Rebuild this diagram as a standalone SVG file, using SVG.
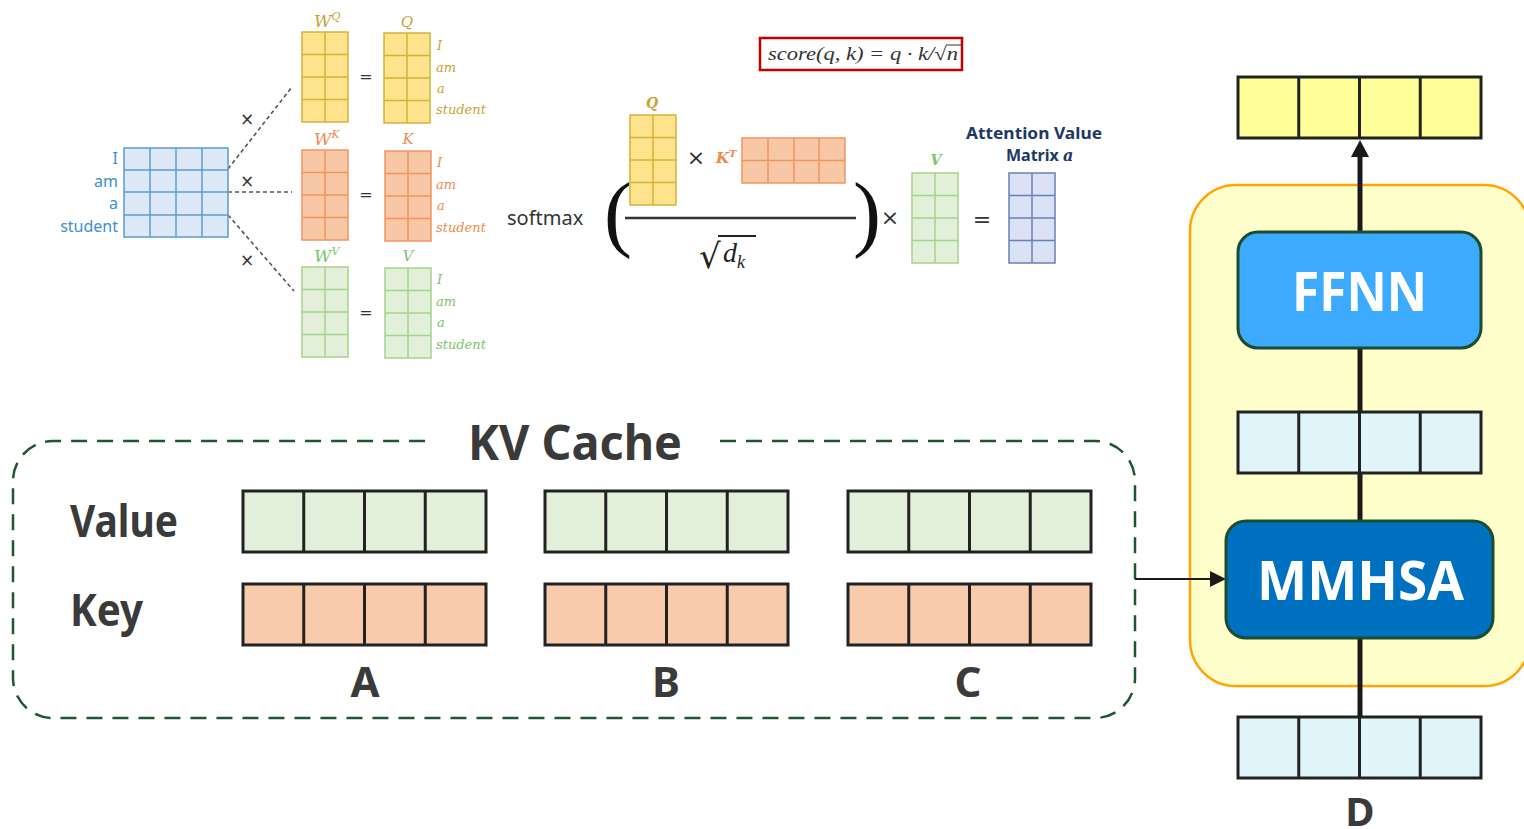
<svg xmlns="http://www.w3.org/2000/svg" xmlns:xlink="http://www.w3.org/1999/xlink" width="1524" height="829" viewBox="0 0 1524 829">
  <style>
    .sans { font-family: "Noto Sans", "Open Sans", "Liberation Sans", sans-serif; }
    .bold { font-weight: 700; }
    .dark { fill: #3a3a3a; }
    .math { font-family: "DejaVu Serif", "Liberation Serif", serif; font-style: italic; }
    .lbl-q { fill: #c9a232; }
    .lbl-k { fill: #f08a4b; }
    .lbl-v { fill: #7cc46a; }
    .lbl-x { fill: #3b8fd6; }
    .m-q { fill: #fde38c; stroke: #d6b03a; }
    .m-k { fill: #f8c8a6; stroke: #f09560; }
    .m-v { fill: #e2f0d9; stroke: #a6d28c; }
    .m-x { fill: #dde9f6; stroke: #5a9bd5; }
    .m-a { fill: #dae2f3; stroke: #6b7fb6; }
    .grid { stroke-width: 1.5; }
    .vec { stroke: #222; stroke-width: 3; }
    .v-val { fill: #e2efda; }
    .v-key { fill: #f8cbad; }
    .v-out { fill: #ffff99; }
    .v-hid { fill: #e0f5fa; }
    .op { font-family: "DejaVu Sans", "Liberation Sans", sans-serif; fill: #333; }
  </style>
  <defs>
    <!-- 2-column x 4-row matrix -->
    <g id="mat24">
      <rect x="0" y="0" width="46" height="90"/>
      <line x1="23" y1="0" x2="23" y2="90"/>
      <line x1="0" y1="22.5" x2="46" y2="22.5"/>
      <line x1="0" y1="45" x2="46" y2="45"/>
      <line x1="0" y1="67.5" x2="46" y2="67.5"/>
    </g>
    <!-- 4-cell embedding vector -->
    <g id="vec4">
      <rect x="0" y="0" width="243" height="61"/>
      <line x1="60.75" y1="0" x2="60.75" y2="61"/>
      <line x1="121.5" y1="0" x2="121.5" y2="61"/>
      <line x1="182.25" y1="0" x2="182.25" y2="61"/>
    </g>
    <marker id="headBig" markerUnits="userSpaceOnUse" markerWidth="17" markerHeight="18" refX="0" refY="9" orient="auto">
      <path d="M0,0 L17,9 L0,18 z" fill="#1a1a1a"/>
    </marker>
    <marker id="headSmall" markerUnits="userSpaceOnUse" markerWidth="16" markerHeight="16" refX="0" refY="8" orient="auto">
      <path d="M0,0 L16,8 L0,16 z" fill="#1a1a1a"/>
    </marker>
  </defs>

  <rect width="1524" height="829" fill="#ffffff"/>

  <!-- decoder block container -->
  <g id="decoder-block">
    <rect x="1190" y="185" width="340" height="501" rx="46" ry="46" fill="#ffffcc" stroke="#ffa500" stroke-width="2.5"/>
  </g>

  <!-- KV cache container -->
  <g id="kv-cache">
    <path d="M720,441 L1095,441 A40,40 0 0 1 1135,481 L1135,678 A40,40 0 0 1 1095,718 L53,718 A40,40 0 0 1 13,678 L13,481 A40,40 0 0 1 53,441 L435,441"
          fill="none" stroke="#1e5631" stroke-width="2.5" stroke-dasharray="16,10"/>
    <text x="468" y="460" class="sans bold dark" font-size="48" textLength="214" lengthAdjust="spacingAndGlyphs">KV Cache</text>
    <text x="70" y="537" class="sans bold dark" font-size="44" textLength="108" lengthAdjust="spacingAndGlyphs">Value</text>
    <text x="70" y="626" class="sans bold dark" font-size="44" textLength="73" lengthAdjust="spacingAndGlyphs">Key</text>
  </g>

  <!-- connectors -->
  <g id="connectors">
    <line x1="1360" y1="717" x2="1360" y2="157" stroke="#1a1a1a" stroke-width="5" marker-end="url(#headBig)"/>
    <line x1="1135" y1="579" x2="1210" y2="579" stroke="#1a1a1a" stroke-width="2" marker-end="url(#headSmall)"/>
    <g stroke="#555" stroke-width="1.6" stroke-dasharray="4,3" fill="none">
      <line x1="228" y1="169" x2="292" y2="87"/>
      <line x1="228" y1="192" x2="292" y2="192"/>
      <line x1="228" y1="215" x2="294" y2="291"/>
    </g>
  </g>

  <!-- cached key/value vectors -->
  <g id="token-a">
    <use xlink:href="#vec4" x="243" y="491" class="vec v-val"/>
    <use xlink:href="#vec4" x="243" y="584" class="vec v-key"/>
    <text x="365" y="697" class="sans bold dark" font-size="42" text-anchor="middle">A</text>
  </g>
  <g id="token-b">
    <use xlink:href="#vec4" x="545" y="491" class="vec v-val"/>
    <use xlink:href="#vec4" x="545" y="584" class="vec v-key"/>
    <text x="666" y="697" class="sans bold dark" font-size="42" text-anchor="middle">B</text>
  </g>
  <g id="token-c">
    <use xlink:href="#vec4" x="848" y="491" class="vec v-val"/>
    <use xlink:href="#vec4" x="848" y="584" class="vec v-key"/>
    <text x="968" y="697" class="sans bold dark" font-size="42" text-anchor="middle">C</text>
  </g>

  <!-- decoder stack -->
  <g id="output-vector">
    <use xlink:href="#vec4" x="1238" y="77" class="vec v-out"/>
  </g>
  <g id="ffnn">
    <rect x="1238" y="232" width="243" height="116" rx="20" ry="20" fill="#3caaff" stroke="#1a4d2e" stroke-width="3"/>
    <text x="1292" y="311" class="sans bold" fill="#ffffff" font-size="54" textLength="135" lengthAdjust="spacingAndGlyphs">FFNN</text>
  </g>
  <g id="hidden-vector">
    <use xlink:href="#vec4" x="1238" y="412" class="vec v-hid"/>
  </g>
  <g id="mmhsa">
    <rect x="1226" y="521" width="267" height="117" rx="20" ry="20" fill="#0070c0" stroke="#1a4d2e" stroke-width="3"/>
    <text x="1257" y="600" class="sans bold" fill="#ffffff" font-size="53" textLength="207" lengthAdjust="spacingAndGlyphs">MMHSA</text>
  </g>
  <g id="input-vector">
    <use xlink:href="#vec4" x="1238" y="717" class="vec v-hid"/>
    <text x="1360" y="826" class="sans bold dark" font-size="40" text-anchor="middle">D</text>
  </g>

  <!-- input embedding matrix -->
  <g id="input-matrix">
    <g class="m-x grid">
      <rect x="124" y="148" width="104" height="89"/>
      <line x1="150" y1="148" x2="150" y2="237"/>
      <line x1="176" y1="148" x2="176" y2="237"/>
      <line x1="202" y1="148" x2="202" y2="237"/>
      <line x1="124" y1="170" x2="228" y2="170"/>
      <line x1="124" y1="192" x2="228" y2="192"/>
      <line x1="124" y1="215" x2="228" y2="215"/>
    </g>
    <g class="sans lbl-x" font-size="16" text-anchor="end">
      <text x="118" y="164">I</text>
      <text x="118" y="187">am</text>
      <text x="118" y="209">a</text>
      <text x="118" y="232">student</text>
    </g>
    <g class="op" font-size="17" text-anchor="middle">
      <text x="247" y="125">×</text>
      <text x="247" y="187">×</text>
      <text x="247" y="266">×</text>
    </g>
  </g>

  <!-- query projection -->
  <g id="query-projection">
    <use xlink:href="#mat24" x="302" y="32" class="m-q grid"/>
    <use xlink:href="#mat24" x="384" y="33" class="m-q grid"/>
    <text x="366" y="82" class="op" font-size="16" text-anchor="middle">=</text>
    <text x="314" y="27" class="math lbl-q" font-size="17">W<tspan font-size="11" dy="-7">Q</tspan></text>
    <text x="407" y="27" class="math lbl-q" font-size="15" text-anchor="middle">Q</text>
    <g class="math lbl-q" font-size="13">
      <text x="437" y="50">I</text>
      <text x="436" y="72">am</text>
      <text x="437" y="93">a</text>
      <text x="436" y="114">student</text>
    </g>
  </g>

  <!-- key projection -->
  <g id="key-projection">
    <use xlink:href="#mat24" x="302" y="150" class="m-k grid"/>
    <use xlink:href="#mat24" x="385" y="151" class="m-k grid"/>
    <text x="366" y="200" class="op" font-size="16" text-anchor="middle">=</text>
    <text x="314" y="145" class="math lbl-k" font-size="17">W<tspan font-size="11" dy="-7">K</tspan></text>
    <text x="408" y="144" class="math lbl-k" font-size="15" text-anchor="middle">K</text>
    <g class="math lbl-k" font-size="13">
      <text x="437" y="167">I</text>
      <text x="436" y="189">am</text>
      <text x="437" y="210">a</text>
      <text x="436" y="232">student</text>
    </g>
  </g>

  <!-- value projection -->
  <g id="value-projection">
    <use xlink:href="#mat24" x="302" y="267" class="m-v grid"/>
    <use xlink:href="#mat24" x="385" y="268" class="m-v grid"/>
    <text x="366" y="318" class="op" font-size="16" text-anchor="middle">=</text>
    <text x="314" y="262" class="math lbl-v" font-size="17">W<tspan font-size="11" dy="-7">V</tspan></text>
    <text x="408" y="261" class="math lbl-v" font-size="15" text-anchor="middle">V</text>
    <g class="math lbl-v" font-size="13">
      <text x="437" y="284">I</text>
      <text x="436" y="306">am</text>
      <text x="437" y="327">a</text>
      <text x="436" y="349">student</text>
    </g>
  </g>

  <!-- score formula -->
  <g id="score-formula">
    <rect x="760" y="38" width="202" height="32" fill="#ffffff" stroke="#c00000" stroke-width="2.5"/>
    <text x="768" y="60" font-family="Liberation Serif, serif" font-style="italic" font-size="19" fill="#333" textLength="190" lengthAdjust="spacingAndGlyphs">score(q, k) = q · k/√n</text>
    <line x1="946" y1="45" x2="961" y2="45" stroke="#333" stroke-width="1"/>
  </g>

  <!-- scaled dot-product attention -->
  <g id="attention-formula">
    <text x="507" y="225" class="sans" fill="#333" font-size="20">softmax</text>
    <text x="604" y="241" font-family="Liberation Serif, serif" font-size="84" fill="#111">(</text>
    <text x="853" y="241" font-family="Liberation Serif, serif" font-size="84" fill="#111">)</text>
    <line x1="625" y1="218" x2="856" y2="218" stroke="#333" stroke-width="2.5"/>
    <use xlink:href="#mat24" x="630" y="115" class="m-q grid"/>
    <text x="652" y="108" class="math lbl-q" font-size="14" font-weight="bold" text-anchor="middle">Q</text>
    <text x="696" y="165" class="op" font-size="22" text-anchor="middle">×</text>
    <text x="716" y="163" class="math lbl-k" font-size="15" font-weight="bold">K<tspan font-size="10" dy="-6">T</tspan></text>
    <g class="m-k grid">
      <rect x="742" y="138" width="103" height="45"/>
      <line x1="768" y1="138" x2="768" y2="183"/>
      <line x1="794" y1="138" x2="794" y2="183"/>
      <line x1="819" y1="138" x2="819" y2="183"/>
      <line x1="742" y1="160.5" x2="845" y2="160.5"/>
    </g>
    <text x="699" y="268" font-family="DejaVu Sans, sans-serif" font-size="34" fill="#222">√</text>
    <line x1="718" y1="236" x2="756" y2="236" stroke="#222" stroke-width="1.8"/>
    <text x="723" y="262" font-family="Liberation Serif, serif" font-style="italic" font-size="28" fill="#222">d<tspan font-size="18" dy="6">k</tspan></text>
    <text x="890" y="225" class="op" font-size="22" text-anchor="middle">×</text>
    <use xlink:href="#mat24" x="912" y="173" class="m-v grid"/>
    <text x="936" y="165" class="math lbl-v" font-size="14" font-weight="bold" text-anchor="middle">V</text>
    <text x="982" y="227" class="op" font-size="22" text-anchor="middle">=</text>
    <use xlink:href="#mat24" x="1009" y="173" class="m-a grid"/>
    <text x="1034" y="139" class="sans bold" fill="#203864" font-size="16" text-anchor="middle" textLength="136" lengthAdjust="spacingAndGlyphs">Attention Value</text>
    <text x="1006" y="161" class="sans bold" fill="#203864" font-size="16">Matrix <tspan font-family="DejaVu Serif, serif" font-style="italic">a</tspan></text>
  </g>
</svg>
